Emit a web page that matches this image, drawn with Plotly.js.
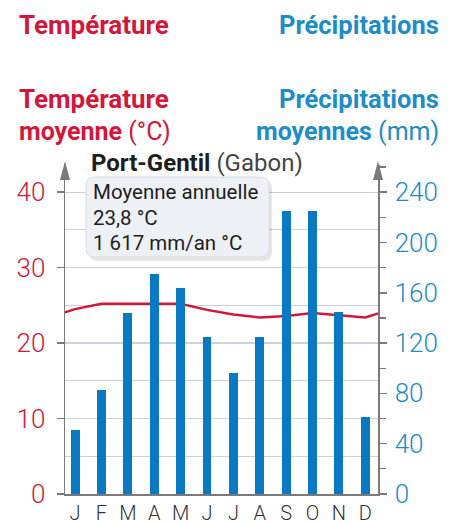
<!DOCTYPE html>
<html>
<head>
<meta charset="utf-8">
<script src="https://cdn.plot.ly/plotly-3.0.1.min.js"></script>
<style>html,body{margin:0;padding:0;background:#fff;}#chart{width:456px;height:524px;}</style>
</head>
<body>
<div id="chart"></div>
<script>
// ---- data ----
const months = ["J","F","M","A","M","J","J","A","S","O","N","D"];
const precipitation = [51, 83, 144, 175, 164, 125, 96, 125, 225, 225, 145, 61];
const temperature = [24.5, 25.2, 25.2, 25.2, 25.2, 24.4, 23.8, 23.4, 23.6, 24.0, 23.7, 23.4];
const tempTicks = [0, 10, 20, 30, 40];
const precipTicks = [0, 40, 80, 120, 160, 200, 240];

// ---- layout helpers (pixel -> paper) ----
const L = 65, R = 78, T = 165, B = 30, W = 456, H = 524;
const pw = W - L - R, ph = H - T - B;
const X = px => (px - L) / pw;
const Y = py => (H - B - py) / ph;

const RED = "#d3173b", BLUE = "#1d8dc8", BAR = "#0a79c3", AX = "#7a7a7a", GRID = "#c9d3dc";
const FONT = "Roboto, 'Noto Sans', sans-serif";

const idx = months.map((m, i) => i);
// temperature line wraps around the year (Dec before Jan, Jan after Dec)
const tx = [-1].concat(idx, [12]);
const ty = [temperature[11]].concat(temperature, [temperature[0]]);

const traces = [
  {type: "bar", x: idx, y: precipitation, yaxis: "y2", marker: {color: BAR}, width: 0.34, hoverinfo: "skip"},
  {type: "scatter", mode: "lines", x: tx, y: ty, yaxis: "y", line: {color: RED, width: 2.5}, hoverinfo: "skip"}
];

function ann(text, px, py, xanchor, color, size, extra) {
  return Object.assign({text: text, x: X(px), y: Y(py), xref: "paper", yref: "paper",
    xanchor: xanchor, yanchor: "middle", showarrow: false, align: xanchor === "right" ? "right" : "left",
    font: {family: FONT, size: size, color: color}}, extra || {});
}

function roundRect(x0, y0, x1, y1, r) {
  const p = (a, b) => X(a) + "," + Y(b);
  return "M" + p(x0 + r, y0) + " L" + p(x1 - r, y0) + " Q" + p(x1, y0) + " " + p(x1, y0 + r) +
    " L" + p(x1, y1 - r) + " Q" + p(x1, y1) + " " + p(x1 - r, y1) +
    " L" + p(x0 + r, y1) + " Q" + p(x0, y1) + " " + p(x0, y1 - r) +
    " L" + p(x0, y0 + r) + " Q" + p(x0, y0) + " " + p(x0 + r, y0) + " Z";
}
function tri(cx, tip, base, hw) {
  return "M" + X(cx) + "," + Y(tip) + " L" + X(cx + hw) + "," + Y(base) + " L" + X(cx - hw) + "," + Y(base) + " Z";
}

const layout = {
  width: W, height: H,
  margin: {l: L, r: R, t: T, b: B, pad: 0},
  paper_bgcolor: "#fff", plot_bgcolor: "#fff",
  showlegend: false,
  bargap: 0,
  xaxis: {
    range: [-0.38, 11.48], tickvals: idx, ticktext: months,
    showgrid: false, zeroline: false, showline: true, linecolor: AX, linewidth: 1.5,
    ticks: "", tickfont: {family: FONT, size: 20, color: "#333", weight: 300}, ticklabelstandoff: 0, fixedrange: true
  },
  yaxis: {
    range: [0, 43.6], tickvals: tempTicks, ticktext: tempTicks.map(String),
    showgrid: true, gridcolor: GRID, gridwidth: 1.2,
    minor: {dtick: 5, tick0: 0, showgrid: true, gridcolor: GRID, gridwidth: 1.2, ticks: ""},
    zeroline: false, showline: true, linecolor: AX, linewidth: 1.5,
    ticks: "outside", ticklen: 7, tickcolor: AX, tickwidth: 1.5,
    tickfont: {family: FONT, size: 26, color: RED, weight: 300}, ticklabelstandoff: 6, fixedrange: true
  },
  yaxis2: {
    overlaying: "y", side: "right",
    range: [0, 261.6], tickvals: precipTicks, ticktext: precipTicks.map(String),
    showgrid: false, zeroline: false, showline: true, linecolor: AX, linewidth: 1.5,
    ticks: "outside", ticklen: 7, tickcolor: AX, tickwidth: 1.5,
    minor: {dtick: 20, tick0: 0, ticks: "outside", ticklen: 6, tickcolor: AX, tickwidth: 1.2, showgrid: false},
    tickfont: {family: FONT, size: 26, color: BLUE, weight: 300}, ticklabelstandoff: 3, fixedrange: true
  },
  shapes: [
    {type: "path", xref: "paper", yref: "paper", path: tri(L, 161, 180, 5), fillcolor: AX, line: {width: 0}},
    {type: "path", xref: "paper", yref: "paper", path: tri(W - R, 161, 180, 5), fillcolor: AX, line: {width: 0}},
    {type: "path", xref: "paper", yref: "paper", path: roundRect(89, 180, 272, 261, 9), fillcolor: "rgba(0,0,0,0.10)", line: {width: 0}},
    {type: "path", xref: "paper", yref: "paper", path: roundRect(86, 177, 269, 257, 9), fillcolor: "#edf0f4", line: {color: "#d9dee4", width: 1}}
  ],
  annotations: [
    ann("<b>Température</b>", 17, 25, "left", RED, 26),
    ann("<b>Précipitations</b>", 441, 25, "right", BLUE, 25.5),
    ann("<b>Température</b>", 17, 99, "left", RED, 26),
    ann("<b>moyenne</b> (°C)", 17, 131, "left", RED, 25),
    ann("<b>Précipitations</b>", 441, 99, "right", BLUE, 25.5),
    ann("<b>moyennes</b> (mm)", 441, 131, "right", BLUE, 25),
    ann("<b>Port-Gentil</b> <span style='color:#444'>(Gabon)</span>", 89, 163, "left", "#1e1e1e", 24),
    ann("Moyenne annuelle", 91, 192, "left", "#1e1e1e", 20.5),
    ann("23,8 °C", 91, 218, "left", "#1e1e1e", 20.5),
    ann("1 617 mm/an °C", 91, 243, "left", "#1e1e1e", 20.5)
  ]
};

Plotly.newPlot("chart", traces, layout, {displayModeBar: false, staticPlot: true});
</script>
</body>
</html>
